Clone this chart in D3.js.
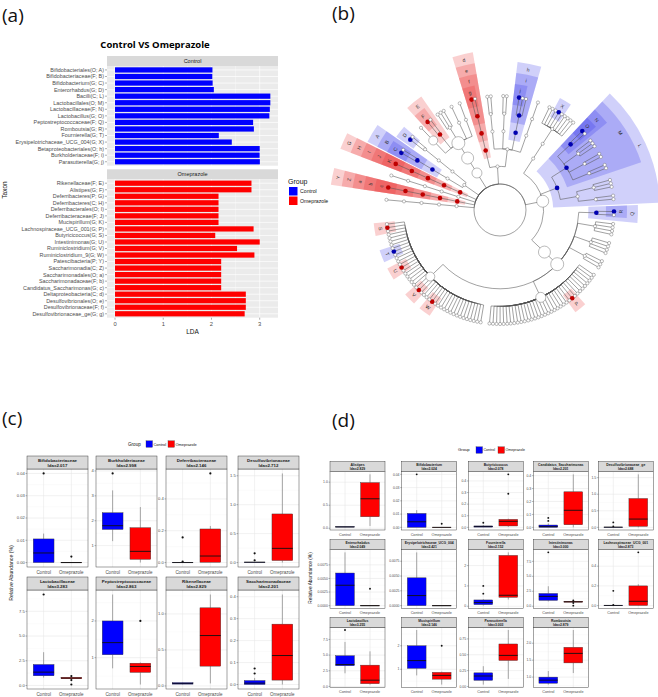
<!DOCTYPE html>
<html>
<head>
<meta charset="utf-8">
<script src="https://cdn.jsdelivr.net/npm/d3@7"></script>
<style>body{margin:0;background:#fff}</style>
</head>
<body>
<script>
// ---------- data: (a) LDA bars ----------
var ctrlTaxa = ["Bifidobacteriales(O; A)","Bifidobacteriaceae(F; B)","Bifidobacterium(G; C)","Enterorhabdus(G; D)",
  "Bacilli(C; L)","Lactobacillales(O; M)","Lactobacillaceae(F; N)","Lactobacillus(G; O)","Peptostreptococcaceae(F; Q)",
  "Romboutsia(G; R)","Fournierella(G; T)","Erysipelotrichaceae_UCG_004(G; X)","Betaproteobacteriales(O; h)",
  "Burkholderiaceae(F; i)","Parasutterella(G; j)"];
var ctrlLda = [2.02, 2.017, 2.024, 2.049, 3.22, 3.22, 3.21, 3.20, 2.863, 2.879, 2.152, 2.421, 3.0, 2.998, 3.003];
var omeTaxa = ["Rikenellaceae(F; E)","Alistipes(G; F)","Deferribacteres(P; G)","Deferribacteres(C; H)","Deferribacterales(O; I)",
  "Deferribacteraceae(F; J)","Mucispirillum(G; K)","Lachnospiraceae_UCG_001(G; P)","Butyricicoccus(G; S)","Intestinimonas(G; U)",
  "Ruminiclostridium(G; V)","Ruminiclostridium_9(G; W)","Patescibacteria(P; Y)","Saccharimonadia(C; Z)","Saccharimonadales(O; a)",
  "Saccharimonadaceae(F; b)","Candidatus_Saccharimonas(G; c)","Deltaproteobacteria(C; d)","Desulfovibrionales(O; e)",
  "Desulfovibrionaceae(F; f)","Desulfovibrionaceae_ge(G; g)"];
var omeLda = [2.829, 2.829, 2.146, 2.146, 2.146, 2.146, 2.146, 2.873, 2.078, 3.0, 2.53, 2.89, 2.201, 2.201, 2.201,
  2.201, 2.201, 2.712, 2.712, 2.712, 2.688];
var ldaTicks = [0, 1, 2, 3];

// ---------- data: (b) cladogram ----------
// [name, children...]; a number = that many unnamed genera
var cladeTree = ["Bacteria",
  ["", ["", ["", ["", 1]]]],
  ["Y", ["Z", ["a", ["b", "c"]]]],
  ["", ["", ["", ["", 1]]]],
  ["G", ["H", ["I", ["J", "K"]]]],
  ["", ["", ["A", ["B", "C", 1]]], ["", ["", ["", "D", 1]]]],
  ["Bacteroidetes", ["Bacteroidia", ["Bacteroidales", ["Muribaculaceae", 1], ["E", "F", 1], ["", 3], ["", 1], ["", 1]]]],
  ["", ["d", ["e", ["f", "g", 1]]], ["", ["", ["", 2]], ["", ["", 2]], ["h", ["i", "j", 2]], ["", ["", 1]]]],
  ["Firmicutes",
    ["", ["", ["", 3, "X", 5]]],
    ["L", ["M", ["N", "O", 1], ["", 3], ["", 2], ["", 2]], ["", ["", 3], ["", 2]]],
    ["Clostridia", ["Clostridiales",
      ["Q", "R", 1], ["", 4], ["", 4], ["", 3],
      ["Lachnospiraceae", 9, "P", 25],
      ["Ruminococcaceae", 15, "W", 4, "V", 7, "U", 4, "T", 6, "S", 1]]]]
];
var controlClades = ["A","B","C","D","L","M","N","O","Q","R","T","X","h","i","j"];
var omeClades = ["E","F","G","H","I","J","K","P","S","U","V","W","Y","Z","a","b","c","d","e","f","g"];
var bigNodes = {Bacteroidetes: 5, Bacteroidia: 6, Bacteroidales: 6.5, Muribaculaceae: 4.5, Firmicutes: 6,
  Clostridia: 6, Clostridiales: 6.5, Lachnospiraceae: 5, Ruminococcaceae: 4.5};

// ---------- data: (c) family box plots ----------
var cNames = ["Bifidobacteriaceae","Burkholderiaceae","Deferribacteraceae","Desulfovibrionaceae",
  "Lactobacillaceae","Peptostreptococcaceae","Rikenellaceae","Saccharimonadaceae"];
var cLda = ["2.017","2.998","2.146","2.712","3.283","2.863","2.829","2.201"];
var cTicks = [[0,0.01,0.02,0.03,0.04],[1,2,3,4],[0,0.2,0.4],[0,0.5,1,1.5],[0,2.5,5,7.5],[1,2],[0,0.5,1],[0,0.1,0.2,0.3,0.4]];
var cFmt = [".2f","d",".1f",".1f",".1f","d",".1f",".1f"];
// [low whisker, q1, median, q3, high whisker]
var cControl = [[0,0,0.0043,0.0106,0.013],[1.18,1.65,1.8,2.32,3.22],[0,0,0,0.002,0.004],[0,0.002,0.005,0.008,0.012],
  [0.8,0.98,1.35,2.12,3.37],[0.71,1.08,1.41,2.0,2.72],[0.02,0.025,0.035,0.045,0.05],[0,0,0.006,0.018,0.03]];
var cControlOut = [[0.04],[3.9],[0.158,0.006],[0.16,0.04],[9.2],[],[],[0.073,0.05]];
var cOme = [[0,0,0,0,0],[0.32,0.45,0.77,1.72,2.55],[0.002,0.002,0.041,0.211,0.23],[0,0.035,0.245,0.84,1.54],
  [0.65,0.68,0.75,0.82,0.85],[0.27,0.6,0.76,0.85,0.87],[0.035,0.275,0.70,1.085,1.27],[0,0.02,0.132,0.275,0.41]];
var cOmeOut = [[0.0027],[],[0.56],[],[0.95,0.55,0.1],[2.0],[],[]];

// ---------- data: (d) genus box plots ----------
var dNames = ["Alistipes","Bifidobacterium","Butyricicoccus","Candidatus_Saccharimonas","Desulfovibrionaceae_ge",
  "Enterorhabdus","Erysipelotrichaceae_UCG_004","Fournierella","Intestinimonas","Lachnospiraceae_UCG_001",
  "Lactobacillus","Mucispirillum","Parasutterella","Romboutsia"];
var dLda = ["2.829","2.024","2.078","2.201","2.688","2.049","2.421","2.152","3.000","2.873","3.255","2.146","3.003","2.879"];
var dTicks = [[0,0.5,1],[0,0.01,0.02,0.03,0.04],[0,0.1,0.2,0.3,0.4],[0,0.1,0.2,0.3,0.4],[0,0.5,1,1.5],
  [0,0.0025,0.005,0.0075],[0,0.0025,0.005,0.0075],[0,1,2],[0,2.5,5,7.5],[0,0.2,0.4],
  [0,2.5,5,7.5],[1,2],[0,0.25,0.5,0.75],[1,1.5,2]];
var dFmt = [".1f",".2f",".1f",".1f",".1f",".4f",".4f","d",".1f",".1f",".1f","d",".2f",".1f"];
var dControl = [[0.02,0.025,0.03,0.035,0.04],[0,0,0.0042,0.0105,0.013],[0,0.002,0.008,0.012,0.02],[0,0,0.006,0.018,0.03],
  [0,0.002,0.005,0.008,0.012],[0,0,0.00375,0.006,0.0098],[0,0,0.0017,0.0047,0.009],[0.03,0.08,0.18,0.31,0.35],
  [0.8,0.98,1.64,2.13,3.34],[0,0,0.002,0.004,0.006],[2.1,3.3,3.5,4.9,7.1],[0.74,1.04,1.37,2.0,2.67],
  [0.03,0.097,0.165,0.215,0.32],[0.78,0.82,0.91,1.0,1.18]];
var dControlOut = [[],[0.04],[0.04],[0.073,0.05],[0.15,0.03],[],[],[1.0,0.62],[9.0],[0.15,0.008],[9.0],[],[],[]];
var dOme = [[0.05,0.25,0.64,0.99,1.17],[0,0,0,0,0],[0.005,0.012,0.052,0.069,0.075],[0,0.02,0.132,0.275,0.41],
  [0,0.03,0.25,0.87,1.6],[0,0,0,0,0],[0,0,0,0,0],[0.33,0.44,0.54,2.5,2.65],
  [0.65,0.68,0.75,0.82,0.85],[0,0.002,0.044,0.2,0.217],[0.3,0.44,1.0,3.4,5.6],[0.35,0.58,0.74,0.87,0.9],
  [0.12,0.41,0.49,0.67,0.89],[1.12,1.42,1.70,1.88,2.39]];
var dOmeOut = [[],[0.0027],[0.29,0.457],[],[],[0.0031],[],[],[0.95,0.55,0.1],[0.54],[],[2.0],[],[]];

var groups = ["Control", "Omeprazole"];
var colors = {Control: "#0000FF", Omeprazole: "#FF0000"};

var width = 658, height = 697;
var svg = d3.select("body").append("svg")
    .attr("width", width).attr("height", height)
    .style("font-family", "'Liberation Sans', Arial, sans-serif");
svg.append("rect").attr("width", width).attr("height", height).attr("fill", "#fff");

// panel letters
[["(a)", 2, 22], ["(b)", 332, 20], ["(c)", 2, 425], ["(d)", 332, 427]].forEach(function(p) {
  svg.append("text").attr("x", p[1]).attr("y", p[2]).attr("font-size", 19)
    .style("font-family", "'Open Sans', sans-serif").attr("fill", "#111").text(p[0]);
});

// ====================== (a) LDA bar chart ======================
var ga = svg.append("g");
var xa = d3.scaleLinear().domain([-0.166, 3.379]).range([107, 278]);
ga.append("text").attr("x", 155).attr("y", 48).attr("text-anchor", "middle")
  .attr("font-size", 9.5).attr("font-weight", "bold").style("font-family", "'Open Sans', sans-serif")
  .text("Control VS Omeprazole");

var aFacets = [
  {name: "Control", taxa: ctrlTaxa, lda: ctrlLda, top: 56, bottom: 165.7},
  {name: "Omeprazole", taxa: omeTaxa, lda: omeLda, top: 169.3, bottom: 317.7}
];
aFacets.forEach(function(f) {
  var pTop = f.top + 10;
  ga.append("rect").attr("x", 107).attr("y", f.top).attr("width", 171).attr("height", 10).attr("fill", "#D9D9D9");
  ga.append("text").attr("x", 192.5).attr("y", f.top + 7).attr("text-anchor", "middle")
    .attr("font-size", 5.5).attr("fill", "#1A1A1A").text(f.name);
  ga.append("rect").attr("x", 107).attr("y", pTop).attr("width", 171).attr("height", f.bottom - pTop).attr("fill", "#EBEBEB");
  var y = d3.scalePoint().domain(f.taxa).range([pTop, f.bottom]).padding(0.6);
  var step = y.step();
  [0.5, 1.5, 2.5].forEach(function(v) {
    ga.append("line").attr("x1", xa(v)).attr("x2", xa(v)).attr("y1", pTop).attr("y2", f.bottom)
      .attr("stroke", "#fff").attr("stroke-width", 0.35);
  });
  ldaTicks.forEach(function(v) {
    ga.append("line").attr("x1", xa(v)).attr("x2", xa(v)).attr("y1", pTop).attr("y2", f.bottom)
      .attr("stroke", "#fff").attr("stroke-width", 0.7);
  });
  f.taxa.forEach(function(t) {
    ga.append("line").attr("x1", 107).attr("x2", 278).attr("y1", y(t)).attr("y2", y(t))
      .attr("stroke", "#fff").attr("stroke-width", 0.7);
  });
  ga.selectAll(null).data(f.taxa).enter().append("rect")
    .attr("x", xa(0)).attr("y", function(d) { return y(d) - step * 0.4; })
    .attr("width", function(d, i) { return xa(f.lda[i]) - xa(0); })
    .attr("height", step * 0.8).attr("fill", colors[f.name]);
  f.taxa.forEach(function(t) {
    ga.append("line").attr("x1", 105).attr("x2", 107).attr("y1", y(t)).attr("y2", y(t)).attr("stroke", "#333").attr("stroke-width", 0.4);
    ga.append("text").attr("x", 104).attr("y", y(t) + 1.9).attr("text-anchor", "end")
      .attr("font-size", 5.4).attr("fill", "#4D4D4D").text(t);
  });
});
ldaTicks.forEach(function(v) {
  ga.append("line").attr("x1", xa(v)).attr("x2", xa(v)).attr("y1", 317.7).attr("y2", 319.7).attr("stroke", "#333").attr("stroke-width", 0.4);
  ga.append("text").attr("x", xa(v)).attr("y", 326).attr("text-anchor", "middle").attr("font-size", 5.8).attr("fill", "#4D4D4D").text(v);
});
ga.append("text").attr("x", 192.5).attr("y", 334).attr("text-anchor", "middle").attr("font-size", 6.5).attr("fill", "#111").text("LDA");
ga.append("text").attr("transform", "translate(7,190) rotate(-90)").attr("text-anchor", "middle")
  .attr("font-size", 6.5).attr("fill", "#111").text("Taxon");
ga.append("text").attr("x", 288).attr("y", 184).attr("font-size", 7).attr("fill", "#111").text("Group");
groups.forEach(function(g, i) {
  ga.append("rect").attr("x", 289).attr("y", 187 + i * 9.5).attr("width", 8.5).attr("height", 8.5).attr("fill", colors[g]);
  ga.append("text").attr("x", 300).attr("y", 193.3 + i * 9.5).attr("font-size", 5.2).attr("fill", "#111").text(g);
});

// ====================== (b) cladogram ======================
function toNode(spec) {
  if (typeof spec === "string") return {name: spec};
  var kids = [];
  spec.slice(1).forEach(function(k) {
    if (typeof k === "number") { for (var i = 0; i < k; i++) kids.push({name: ""}); }
    else kids.push(toNode(k));
  });
  return {name: spec[0], children: kids};
}
var root = d3.hierarchy(toNode(cladeTree));
d3.cluster().size([1, 1]).separation(function(a, b) {
  if (a.parent === b.parent) return 1;
  if (a.parent.parent === b.parent.parent) return 2.5;
  return 3.5;
})(root);
var cx = 500, cy = 210;
var ang = d3.scaleLinear().domain([0, 1]).range([-88 * Math.PI / 180, 266 * Math.PI / 180]);
var rad = d3.scaleLinear().domain([0, 5]).range([26, 114]);
var ring = [0, 165, 154, 143, 132, 121];
function pt(a, r) { return [cx + r * Math.sin(a), cy - r * Math.cos(a)]; }
function groupOf(n) {
  if (controlClades.indexOf(n.data.name) >= 0) return "Control";
  if (omeClades.indexOf(n.data.name) >= 0) return "Omeprazole";
  return null;
}
var gb = svg.append("g");
var hl = root.descendants().filter(function(n) { return groupOf(n); });
var arcGen = d3.arc();
hl.forEach(function(n) {
  var lv = n.leaves().map(function(l) { return ang(l.x); });
  var pad = 0.05;
  gb.append("path").attr("transform", "translate(" + cx + "," + cy + ")")
    .attr("d", arcGen({innerRadius: rad(n.depth) - 8, outerRadius: ring[n.depth] + 6,
      startAngle: d3.min(lv) - pad, endAngle: d3.max(lv) + pad}))
    .attr("fill", groupOf(n) === "Control" ? "#2A2AE6" : "#E62A2A").attr("fill-opacity", 0.22);
});
// ring joining the phyla around the root
gb.append("circle").attr("cx", cx).attr("cy", cy).attr("r", rad(0))
  .attr("fill", "none").attr("stroke", "#555").attr("stroke-width", 0.55);
root.descendants().slice(1).forEach(function(n) {
  var a0 = ang(n.parent.x), a1 = ang(n.x), r0 = rad(n.parent.depth), r1 = rad(n.depth);
  var p0 = pt(a0, r0), p1 = pt(a1, r0), p2 = pt(a1, r1);
  var large = Math.abs(a1 - a0) > Math.PI ? 1 : 0, sweep = a1 > a0 ? 1 : 0;
  gb.append("path").attr("d", "M" + p0 + "A" + r0 + "," + r0 + " 0 " + large + " " + sweep + " " + p1 + "L" + p2)
    .attr("fill", "none").attr("stroke", "#555").attr("stroke-width", 0.55);
});
root.descendants().slice(1).forEach(function(n) {
  var p = pt(ang(n.x), rad(n.depth)), g = groupOf(n);
  gb.append("circle").attr("cx", p[0]).attr("cy", p[1])
    .attr("r", g ? 2.3 : (bigNodes[n.data.name] || 1.6))
    .attr("fill", g ? (g === "Control" ? "#0000B0" : "#C00000") : "#fff")
    .attr("stroke", g ? "none" : "#666").attr("stroke-width", 0.45);
});
hl.forEach(function(n) {
  var lv = n.leaves().map(function(l) { return ang(l.x); });
  var a = (d3.min(lv) + d3.max(lv)) / 2, p = pt(a, ring[n.depth]);
  var deg = (a * 180 / Math.PI + 360) % 360, rot = (deg > 90 && deg < 270) ? deg - 180 : deg;
  gb.append("text").attr("transform", "translate(" + p[0] + "," + p[1] + ") rotate(" + rot + ")")
    .attr("text-anchor", "middle").attr("dy", "0.35em").attr("font-size", 5).attr("fill", "#333").text(n.data.name);
});

// ====================== (c) & (d) box plots ======================
function drawFacet(g, o) {
  var pTop = o.y0 + o.stripH, pBot = pTop + o.ph;
  var vals = o.ctrl.concat(o.ome, o.ctrlOut, o.omeOut);
  var lo = d3.min(vals), hi = d3.max(vals), sp = (hi - lo) || 1;
  var y = d3.scaleLinear().domain([lo - 0.05 * sp, hi + 0.05 * sp]).range([pBot, pTop]);
  var x = d3.scalePoint().domain(groups).range([o.x0, o.x0 + o.w]).padding(0.6);
  var bw = x.step() * 0.75;
  g.append("rect").attr("x", o.x0).attr("y", pTop).attr("width", o.w).attr("height", o.ph).attr("fill", "#fff");
  var tk = o.ticks.filter(function(t) { return t >= y.domain()[0] && t <= y.domain()[1]; });
  var stepT = o.ticks[1] - o.ticks[0];
  o.ticks.map(function(t) { return t + stepT / 2; }).concat([o.ticks[0] - stepT / 2])
    .filter(function(t) { return t >= y.domain()[0] && t <= y.domain()[1]; })
    .forEach(function(t) {
      g.append("line").attr("x1", o.x0).attr("x2", o.x0 + o.w).attr("y1", y(t)).attr("y2", y(t)).attr("stroke", "#F2F2F2").attr("stroke-width", 0.35);
    });
  tk.forEach(function(t) {
    g.append("line").attr("x1", o.x0).attr("x2", o.x0 + o.w).attr("y1", y(t)).attr("y2", y(t)).attr("stroke", "#E6E6E6").attr("stroke-width", 0.55);
    g.append("line").attr("x1", o.x0 - 1.5).attr("x2", o.x0).attr("y1", y(t)).attr("y2", y(t)).attr("stroke", "#333").attr("stroke-width", 0.35);
    g.append("text").attr("x", o.x0 - 2.2).attr("y", y(t) + o.tf * 0.35).attr("text-anchor", "end")
      .attr("font-size", o.tf).attr("fill", "#4D4D4D").text(d3.format(o.fmt)(t));
  });
  groups.forEach(function(gr) {
    g.append("line").attr("x1", x(gr)).attr("x2", x(gr)).attr("y1", pTop).attr("y2", pBot).attr("stroke", "#E6E6E6").attr("stroke-width", 0.55);
  });
  [[o.ctrl, o.ctrlOut, "Control"], [o.ome, o.omeOut, "Omeprazole"]].forEach(function(b) {
    var s = b[0], cxp = x(b[2]);
    g.append("line").attr("x1", cxp).attr("x2", cxp).attr("y1", y(s[0])).attr("y2", y(s[1])).attr("stroke", "#555").attr("stroke-width", 0.5);
    g.append("line").attr("x1", cxp).attr("x2", cxp).attr("y1", y(s[3])).attr("y2", y(s[4])).attr("stroke", "#555").attr("stroke-width", 0.5);
    g.append("rect").attr("x", cxp - bw / 2).attr("y", y(s[3])).attr("width", bw)
      .attr("height", Math.max(0.3, y(s[1]) - y(s[3]))).attr("fill", colors[b[2]]).attr("stroke", "#333").attr("stroke-width", 0.4);
    g.append("line").attr("x1", cxp - bw / 2).attr("x2", cxp + bw / 2).attr("y1", y(s[2])).attr("y2", y(s[2]))
      .attr("stroke", "#111").attr("stroke-width", 0.9);
    b[1].forEach(function(v) {
      g.append("circle").attr("cx", cxp).attr("cy", y(v)).attr("r", o.pr).attr("fill", "#111");
    });
    g.append("text").attr("x", cxp).attr("y", pBot + o.tf + 2.4).attr("text-anchor", "middle")
      .attr("font-size", o.tf * 1.1).attr("fill", "#4D4D4D").text(b[2]);
  });
  g.append("rect").attr("x", o.x0).attr("y", pTop).attr("width", o.w).attr("height", o.ph)
    .attr("fill", "none").attr("stroke", "#333").attr("stroke-width", 0.45);
  g.append("rect").attr("x", o.x0).attr("y", o.y0).attr("width", o.w).attr("height", o.stripH)
    .attr("fill", "#D9D9D9").attr("stroke", "#333").attr("stroke-width", 0.45);
  g.append("text").attr("x", o.x0 + o.w / 2).attr("y", o.y0 + o.stripH * 0.45).attr("text-anchor", "middle")
    .attr("font-size", o.sf).attr("font-weight", "bold").attr("fill", "#1A1A1A").text(o.name);
  g.append("text").attr("x", o.x0 + o.w / 2).attr("y", o.y0 + o.stripH * 0.45 + o.sf * 1.1).attr("text-anchor", "middle")
    .attr("font-size", o.sf).attr("font-weight", "bold").attr("fill", "#1A1A1A").text("lda=" + o.lda);
}

function legend(g, x, yc, fs) {
  g.append("text").attr("x", x).attr("y", yc + fs * 0.35).attr("font-size", fs).attr("fill", "#111").text("Group");
  g.append("rect").attr("x", x + 18).attr("y", yc - 3.2).attr("width", 6.5).attr("height", 6.5).attr("fill", colors.Control).attr("stroke", "#333").attr("stroke-width", 0.3);
  g.append("text").attr("x", x + 25.5).attr("y", yc + fs * 0.35).attr("font-size", fs * 0.85).attr("fill", "#111").text("Control");
  g.append("rect").attr("x", x + 40).attr("y", yc - 3.2).attr("width", 6.5).attr("height", 6.5).attr("fill", colors.Omeprazole).attr("stroke", "#333").attr("stroke-width", 0.3);
  g.append("text").attr("x", x + 47.5).attr("y", yc + fs * 0.35).attr("font-size", fs * 0.85).attr("fill", "#111").text("Omeprazole");
}

var gc = svg.append("g");
legend(gc, 128, 444, 4.6);
var cCols = [27, 96, 166, 238], cRows = [456, 577], cPh = [98, 99];
cNames.forEach(function(nm, i) {
  var r = Math.floor(i / 4), c = i % 4;
  drawFacet(gc, {x0: cCols[c], y0: cRows[r], w: 61, stripH: 13, ph: cPh[r], name: nm, lda: cLda[i],
    ticks: cTicks[i], fmt: cFmt[i], ctrl: cControl[i], ome: cOme[i], ctrlOut: cControlOut[i], omeOut: cOmeOut[i],
    tf: 4.1, sf: 4.4, pr: 1.1});
});
gc.append("text").attr("transform", "translate(13,573) rotate(-90)").attr("text-anchor", "middle")
  .attr("font-size", 5.2).attr("fill", "#111").text("Relative Abundance (%)");

var gd = svg.append("g");
legend(gd, 458, 450, 4.2);
var dCols = [330, 401.7, 468.3, 533.3, 598.3], dRows = [461.7, 539.7, 617.3], dPh = [58.3, 58.6, 60];
dNames.forEach(function(nm, i) {
  var r = Math.floor(i / 5), c = i % 5;
  drawFacet(gd, {x0: dCols[c], y0: dRows[r], w: 55, stripH: 10, ph: dPh[r], name: nm, lda: dLda[i],
    ticks: dTicks[i], fmt: dFmt[i], ctrl: dControl[i], ome: dOme[i], ctrlOut: dControlOut[i], omeOut: dOmeOut[i],
    tf: 3.4, sf: 3.4, pr: 0.95});
});
gd.append("text").attr("transform", "translate(312,578) rotate(-90)").attr("text-anchor", "middle")
  .attr("font-size", 4.8).attr("fill", "#111").text("Relative Abundance (%)");
</script>
</body>
</html>
